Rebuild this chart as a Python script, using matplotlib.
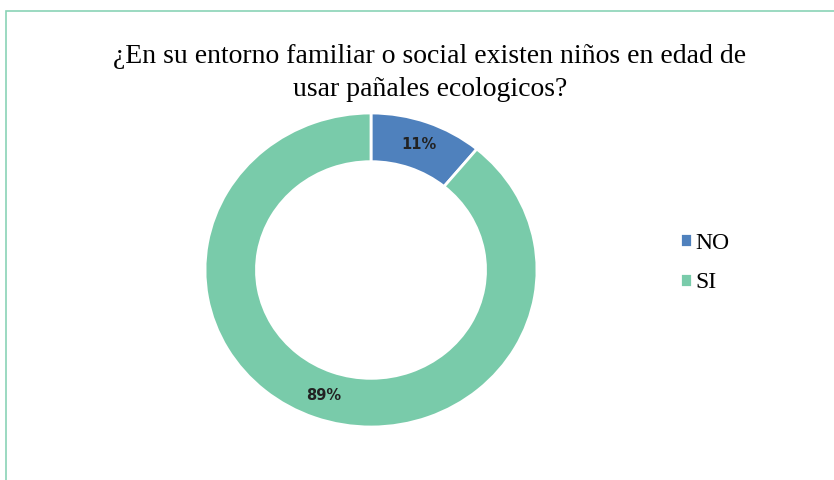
import matplotlib.pyplot as plt
from matplotlib.patches import Rectangle

labels = ["NO", "SI"]
values = [11, 89]
colors = ["#4F81BD", "#79CBAA"]

W, H = 834, 480


def main():
    fig = plt.figure(figsize=(W / 100, H / 100), dpi=100)

    # chart frame (right and bottom edges fall outside the image)
    fig.patches.append(Rectangle((6 / W, -0.1), 1.0, 1 - 11 / H + 0.1,
                                 transform=fig.transFigure, fill=False,
                                 edgecolor="#8AD3B6", linewidth=1.2))

    fig.text(430 / W, 1 - 73 / H,
             "¿En su entorno familiar o social existen niños en edad de\nusar pañales ecologicos?",
             ha="center", va="center", family="Liberation Serif", fontsize=20,
             linespacing=1.4)

    # the donut is slightly wider than tall in the reference
    cx, cy, rx, ry = 371, 210, 166, 157
    ax = fig.add_axes([(cx - rx) / W, (cy - ry) / H, 2 * rx / W, 2 * ry / H])
    wedges, _, autotexts = ax.pie(values, colors=colors, startangle=90, counterclock=False,
                                  autopct="%1.0f%%", pctdistance=0.85,
                                  wedgeprops=dict(width=0.31, edgecolor="white", linewidth=2),
                                  textprops=dict(fontsize=10.5, fontweight="bold",
                                                 family="DejaVu Sans", color="#222222"))
    ax.set_xlim(-1.0, 1.0)
    ax.set_ylim(-1.0, 1.0)
    ax.set_aspect("auto")

    fig.legend(wedges, labels, loc="center left", bbox_to_anchor=(659 / W, 1 - 263 / H),
               frameon=False, handlelength=0.5, handleheight=0.5, handletextpad=0.15,
               labelspacing=0.8, prop=dict(family="Liberation Serif", size=17))

    fig.savefig("out.png", dpi=100)


if __name__ == "__main__":
    main()
